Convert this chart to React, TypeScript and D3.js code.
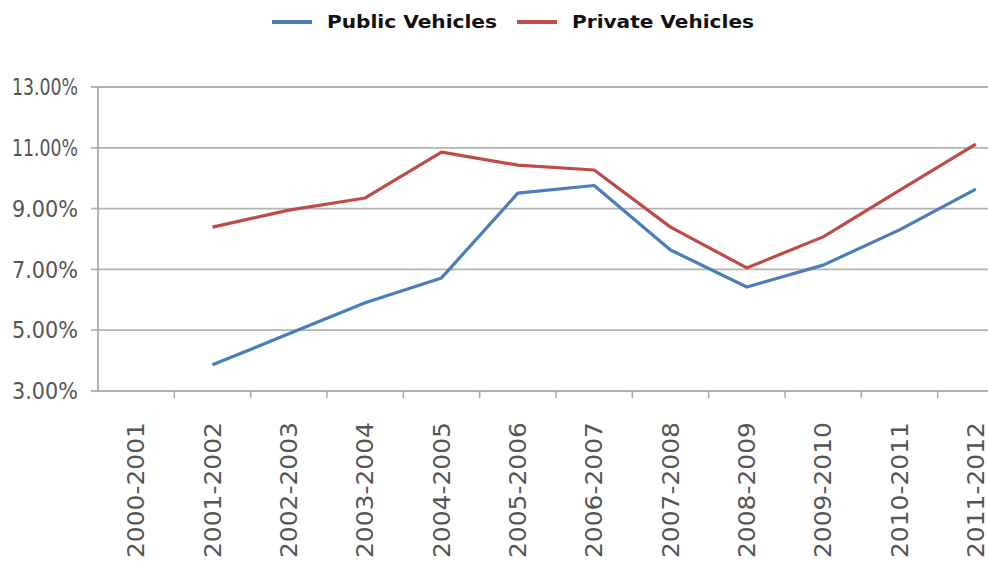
import { useEffect, useRef } from "react"
import * as d3 from "d3"

const years = [
  "2000-2001", "2001-2002", "2002-2003", "2003-2004", "2004-2005", "2005-2006",
  "2006-2007", "2007-2008", "2008-2009", "2009-2010", "2010-2011", "2011-2012",
]
const publicVehicles = [null, 3.86, 4.88, 5.9, 6.72, 9.51, 9.76, 7.64, 6.42, 7.14, 8.3, 9.64]
const privateVehicles = [null, 8.39, 8.95, 9.35, 10.86, 10.43, 10.27, 8.39, 7.05, 8.07, 9.6, 11.12]
const yTicks = [3, 5, 7, 9, 11, 13]

const series = [
  { name: "Public Vehicles", values: publicVehicles, color: "#4a7ebb" },
  { name: "Private Vehicles", values: privateVehicles, color: "#be4b48" },
]

export default function App() {
  const svgRef = useRef<SVGSVGElement>(null)

  useEffect(() => {
    if (!svgRef.current) return
    const svg = d3.select(svgRef.current)
    svg.selectAll("*").remove()

    const width = 988
    const height = 563
    const left = 98
    const top = 87
    const bottom = 391

    const x = d3.scaleBand().domain(years).range([left, 1014])
    const y = d3.scaleLinear().domain([3, 13]).range([bottom, top])

    svg.append("rect").attr("width", width).attr("height", height).attr("fill", "#fff")

    // gridlines
    svg
      .selectAll(".grid")
      .data(yTicks)
      .enter()
      .append("line")
      .attr("x1", left - 7)
      .attr("x2", width)
      .attr("y1", (d) => y(d))
      .attr("y2", (d) => y(d))
      .attr("stroke", "#b4b4b4")
      .attr("stroke-width", 1.8)

    // y labels
    svg
      .selectAll(".ylab")
      .data(yTicks)
      .enter()
      .append("text")
      .attr("x", 78)
      .attr("y", (d) => y(d))
      .attr("dy", "0.36em")
      .attr("text-anchor", "end")
      .attr("textLength", 66)
      .attr("lengthAdjust", "spacingAndGlyphs")
      .style("font-family", "'DejaVu Sans Condensed', 'DejaVu Sans', sans-serif")
      .style("font-size", "23px")
      .style("fill", "#555")
      .text((d) => d.toFixed(2) + "%")

    // y axis line
    svg
      .append("line")
      .attr("x1", left)
      .attr("x2", left)
      .attr("y1", top)
      .attr("y2", bottom)
      .attr("stroke", "#999")
      .attr("stroke-width", 1.5)

    // x ticks at band boundaries
    const bounds = years.map((d) => x(d) || 0).slice(1).concat([x.range()[1]])
    svg
      .selectAll(".xtick")
      .data(bounds)
      .enter()
      .append("line")
      .attr("x1", (d) => d)
      .attr("x2", (d) => d)
      .attr("y1", bottom)
      .attr("y2", bottom + 7)
      .attr("stroke", "#aaa")
      .attr("stroke-width", 1.5)

    // x labels
    svg
      .selectAll(".xlab")
      .data(years)
      .enter()
      .append("text")
      .attr("transform", (d) => `translate(${(x(d) || 0) + x.bandwidth() / 2},422) rotate(-90)`)
      .attr("dy", "0.36em")
      .attr("text-anchor", "end")
      .attr("textLength", 136)
      .attr("lengthAdjust", "spacingAndGlyphs")
      .style("font-family", "'DejaVu Sans', sans-serif")
      .style("font-size", "23px")
      .style("fill", "#555")
      .text((d) => d)

    // lines
    series.forEach((s) => {
      const line = d3
        .line<number | null>()
        .defined((d) => d != null)
        .x((d, i) => (x(years[i]) || 0) + x.bandwidth() / 2)
        .y((d) => y(d as number))

      svg
        .append("path")
        .datum(s.values)
        .attr("fill", "none")
        .attr("stroke", s.color)
        .attr("stroke-width", 3.2)
        .attr("stroke-linejoin", "round")
        .attr("d", line)
    })

    // legend
    const legendPos = [272, 517]
    const legendWidths = [170, 182]
    series.forEach((s, i) => {
      const g = svg.append("g").attr("transform", `translate(${legendPos[i]},22)`)
      g.append("line").attr("x1", 0).attr("x2", 40).attr("stroke", s.color).attr("stroke-width", 4)
      g.append("text")
        .attr("x", 55)
        .attr("dy", "0.36em")
        .attr("textLength", legendWidths[i])
        .attr("lengthAdjust", "spacingAndGlyphs")
        .style("font-family", "'DejaVu Sans', sans-serif")
        .style("font-weight", "bold")
        .style("font-size", "18px")
        .style("fill", "#111")
        .text(s.name)
    })
  }, [])

  return (
    <svg
      ref={svgRef}
      width={988}
      height={563}
      style={{ position: "absolute", left: 0, top: 0 }}
    ></svg>
  )
}
